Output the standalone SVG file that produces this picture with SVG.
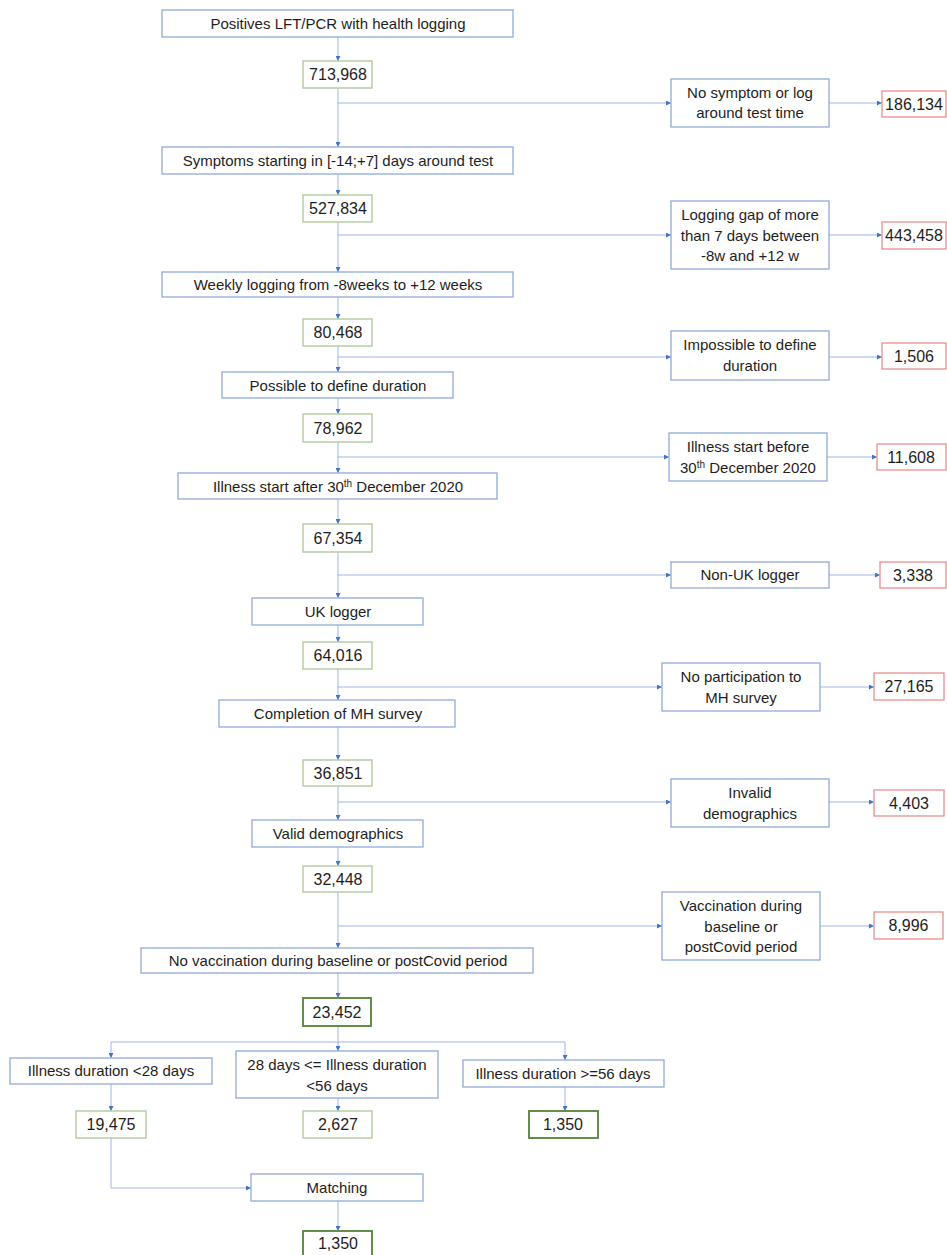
<svg xmlns="http://www.w3.org/2000/svg" width="947" height="1255" viewBox="0 0 947 1255">
<defs>
<marker id="ah" markerUnits="userSpaceOnUse" markerWidth="5" markerHeight="5" refX="5" refY="2.5" orient="auto">
<path d="M0,0 L5,2.5 L0,5 z" fill="#4472c4"/>
</marker>
<style>
.b{fill:#fff;stroke:#8faadc;stroke-width:1.3}
.g{fill:#fff;stroke:#a9c896;stroke-width:1.3}
.dg{fill:#fff;stroke:#548235;stroke-width:1.8}
.r{fill:#fff;stroke:#e88e8e;stroke-width:1.3}
text{font-family:"Liberation Sans",Arial,sans-serif;font-size:15px;fill:#1e1e1e;text-anchor:middle}
text.num{font-size:16px}
.c path{fill:none;stroke:#9bb5e2;stroke-width:1;marker-end:url(#ah)}
.c path.n{marker-end:none}
</style>
</defs>
<rect width="947" height="1255" fill="#fff"/>
<g class="c" id="connectors">
<path d="M338,37 V61"/>
<path d="M338,88 V147"/>
<path d="M338,103 H671"/>
<path d="M829,103 H882"/>
<path d="M338,174 V195"/>
<path d="M338,222 V272"/>
<path d="M338,235 H671"/>
<path d="M829,235 H882"/>
<path d="M338,297 V319"/>
<path d="M338,346 V372"/>
<path d="M338,357 H671"/>
<path d="M829,357 H882"/>
<path d="M338,398 V414"/>
<path d="M338,442 V473"/>
<path d="M338,457 H669"/>
<path d="M827,457 H877"/>
<path d="M338,499 V524"/>
<path d="M338,552 V598"/>
<path d="M338,575 H671"/>
<path d="M829,575 H880"/>
<path d="M338,625 V642"/>
<path d="M338,669 V700"/>
<path d="M338,687 H662"/>
<path d="M820,687 H874"/>
<path d="M338,727 V760"/>
<path d="M338,786 V820"/>
<path d="M338,802 H671"/>
<path d="M829,802 H874"/>
<path d="M338,847 V866"/>
<path d="M338,892 V948"/>
<path d="M338,926 H662"/>
<path d="M820,926 H874"/>
<path d="M338,973 V998"/>
<path class="n" d="M338,1026 V1042"/>
<path class="n" d="M111,1042 H565"/>
<path d="M111,1042 V1058"/>
<path d="M338,1042 V1051"/>
<path d="M565,1042 V1060"/>
<path d="M111,1084 V1111"/>
<path d="M338,1098 V1111"/>
<path d="M565,1087 V1111"/>
<path d="M111,1138 V1188 H251"/>
<path d="M338,1201 V1231"/>
</g>

<g id="n_positives"><rect class="b" x="162" y="10" width="351" height="27"/><text x="338" y="29">Positives LFT/PCR with health logging</text></g>
<g id="n_713968"><rect class="g" x="303" y="61" width="69" height="27"/><text class="num" x="338" y="80">713,968</text></g>
<g id="n_nosymptom"><rect class="b" x="671" y="79" width="158" height="48"/><text x="750" y="98">No symptom or log</text><text x="750" y="118">around test time</text></g>
<g id="n_186134"><rect class="r" x="882" y="91" width="64" height="26"/><text class="num" x="914" y="110">186,134</text></g>

<g id="n_symptoms"><rect class="b" x="162" y="147" width="351" height="27"/><text x="338" y="166">Symptoms starting in [-14;+7] days around test</text></g>
<g id="n_527834"><rect class="g" x="303" y="195" width="69" height="27"/><text class="num" x="338" y="214">527,834</text></g>
<g id="n_gap"><rect class="b" x="671" y="201" width="158" height="68"/><text x="750" y="220">Logging gap of more</text><text x="750" y="240.5">than 7 days between</text><text x="750" y="261">-8w and +12 w</text></g>
<g id="n_443458"><rect class="r" x="882" y="222" width="64" height="27"/><text class="num" x="914" y="241">443,458</text></g>

<g id="n_weekly"><rect class="b" x="162" y="272" width="351" height="25"/><text x="338" y="290">Weekly logging from -8weeks to +12 weeks</text></g>
<g id="n_80468"><rect class="g" x="303" y="319" width="69" height="27"/><text class="num" x="338" y="338">80,468</text></g>
<g id="n_impossible"><rect class="b" x="671" y="331" width="158" height="49"/><text x="750" y="350">Impossible to define</text><text x="750" y="371">duration</text></g>
<g id="n_1506"><rect class="r" x="882" y="343" width="64" height="26"/><text class="num" x="914" y="362">1,506</text></g>

<g id="n_possible"><rect class="b" x="222" y="372" width="231" height="26"/><text x="338" y="391">Possible to define duration</text></g>
<g id="n_78962"><rect class="g" x="303" y="414" width="69" height="28"/><text class="num" x="338" y="434">78,962</text></g>
<g id="n_before"><rect class="b" x="669" y="433" width="158" height="48"/><text x="748" y="452">Illness start before</text><text x="748" y="473">30<tspan font-size="10" dy="-5">th</tspan><tspan dy="5"> December 2020</tspan></text></g>
<g id="n_11608"><rect class="r" x="877" y="444" width="69" height="26"/><text class="num" x="911" y="463">11,608</text></g>

<g id="n_after"><rect class="b" x="178" y="473" width="319" height="26"/><text x="338" y="492">Illness start after 30<tspan font-size="10" dy="-5">th</tspan><tspan dy="5"> December 2020</tspan></text></g>
<g id="n_67354"><rect class="g" x="303" y="524" width="69" height="28"/><text class="num" x="338" y="544">67,354</text></g>
<g id="n_nonuk"><rect class="b" x="671" y="562" width="158" height="26"/><text x="750" y="580">Non-UK logger</text></g>
<g id="n_3338"><rect class="r" x="880" y="562" width="66" height="26"/><text class="num" x="913" y="581">3,338</text></g>

<g id="n_uk"><rect class="b" x="252" y="598" width="171" height="27"/><text x="338" y="617">UK logger</text></g>
<g id="n_64016"><rect class="g" x="303" y="642" width="69" height="27"/><text class="num" x="338" y="661">64,016</text></g>
<g id="n_noparticipation"><rect class="b" x="662" y="663" width="158" height="48"/><text x="741" y="682">No participation to</text><text x="741" y="703">MH survey</text></g>
<g id="n_27165"><rect class="r" x="874" y="673" width="70" height="27"/><text class="num" x="909" y="692">27,165</text></g>

<g id="n_completion"><rect class="b" x="219" y="700" width="236" height="27"/><text x="338" y="719">Completion of MH survey</text></g>
<g id="n_36851"><rect class="g" x="303" y="760" width="69" height="26"/><text class="num" x="338" y="779">36,851</text></g>
<g id="n_invalid"><rect class="b" x="671" y="779" width="158" height="48"/><text x="750" y="798">Invalid</text><text x="750" y="819">demographics</text></g>
<g id="n_4403"><rect class="r" x="874" y="790" width="70" height="26"/><text class="num" x="909" y="809">4,403</text></g>

<g id="n_valid"><rect class="b" x="252" y="820" width="171" height="27"/><text x="338" y="839">Valid demographics</text></g>
<g id="n_32448"><rect class="g" x="303" y="866" width="69" height="26"/><text class="num" x="338" y="885">32,448</text></g>
<g id="n_vaccination"><rect class="b" x="662" y="892" width="158" height="68"/><text x="741" y="911">Vaccination during</text><text x="741" y="931.5">baseline or</text><text x="741" y="952">postCovid period</text></g>
<g id="n_8996"><rect class="r" x="874" y="912" width="69" height="27"/><text class="num" x="908.5" y="931">8,996</text></g>

<g id="n_novacc"><rect class="b" x="141" y="948" width="392" height="25"/><text x="338" y="966">No vaccination during baseline or postCovid period</text></g>
<g id="n_23452"><rect class="dg" x="303" y="998" width="68" height="28"/><text class="num" x="337" y="1018">23,452</text></g>

<g id="n_lt28"><rect class="b" x="10" y="1058" width="202" height="26"/><text x="111" y="1076">Illness duration &lt;28 days</text></g>
<g id="n_28to56"><rect class="b" x="236" y="1051" width="202" height="47"/><text x="337" y="1070">28 days &lt;= Illness duration</text><text x="337" y="1091">&lt;56 days</text></g>
<g id="n_ge56"><rect class="b" x="463" y="1060" width="201" height="27"/><text x="563" y="1079">Illness duration &gt;=56 days</text></g>

<g id="n_19475"><rect class="g" x="76" y="1111" width="70" height="27"/><text class="num" x="111" y="1130">19,475</text></g>
<g id="n_2627"><rect class="g" x="303" y="1111" width="69" height="27"/><text class="num" x="338" y="1130">2,627</text></g>
<g id="n_1350a"><rect class="dg" x="529" y="1111" width="69" height="27"/><text class="num" x="563" y="1130">1,350</text></g>

<g id="n_matching"><rect class="b" x="251" y="1174" width="172" height="27"/><text x="337" y="1193">Matching</text></g>
<g id="n_1350b"><rect class="dg" x="303" y="1231" width="69" height="26"/><text class="num" x="338" y="1249">1,350</text></g>
</svg>
